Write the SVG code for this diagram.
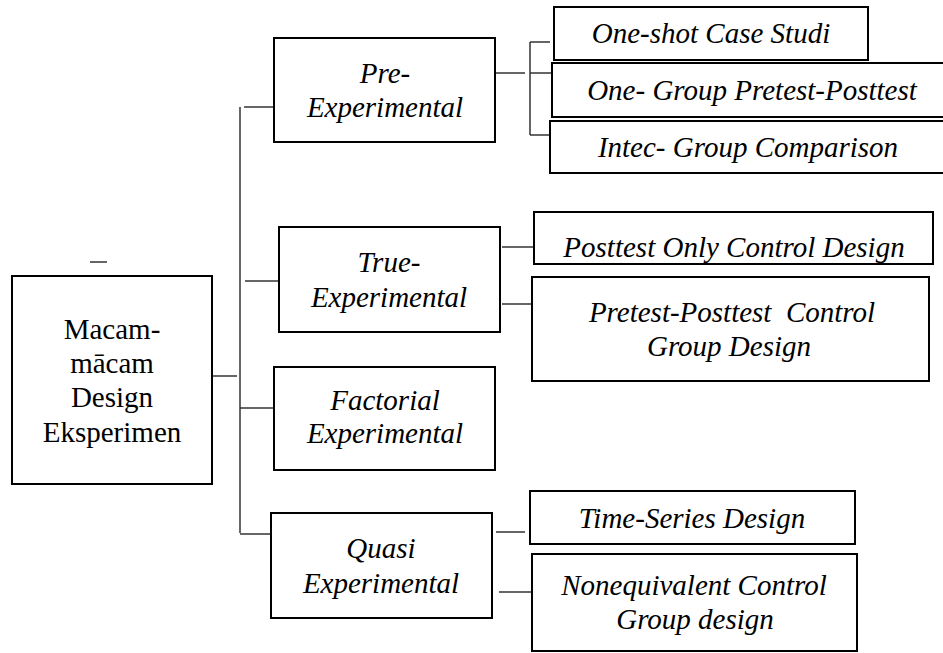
<svg xmlns="http://www.w3.org/2000/svg" width="943" height="653" viewBox="0 0 943 653" font-family="'Liberation Serif', 'Times New Roman', Tinos, 'DejaVu Serif', serif">
<style>
.box{fill:#fff;stroke:#000;stroke-width:2}
.c{stroke:#333;stroke-width:1.5;fill:none}
text{font-family:'Liberation Serif','Times New Roman',Tinos,'DejaVu Serif',serif;font-size:29px;fill:#000;text-anchor:middle}
.i{font-style:italic}
</style>
<rect width="943" height="653" fill="#fff"/>
<g id="connectors">
<line class="c" x1="90" y1="262" x2="107" y2="262"/>
<line class="c" x1="207" y1="376" x2="237" y2="376"/>
<line class="c" x1="240" y1="107" x2="240" y2="533"/>
<line class="c" x1="244" y1="107" x2="274" y2="107"/>
<line class="c" x1="245" y1="281" x2="279" y2="281"/>
<line class="c" x1="240" y1="408" x2="274" y2="408"/>
<line class="c" x1="240" y1="534" x2="271" y2="534"/>
<line class="c" x1="495" y1="73" x2="525" y2="73"/>
<line class="c" x1="530" y1="42" x2="530" y2="135"/>
<line class="c" x1="530" y1="42" x2="550" y2="42"/>
<line class="c" x1="530" y1="73" x2="552" y2="73"/>
<line class="c" x1="530" y1="135" x2="550" y2="135"/>
<line class="c" x1="502" y1="247" x2="534" y2="247"/>
<line class="c" x1="502" y1="304" x2="532" y2="304"/>
<line class="c" x1="496" y1="532" x2="525" y2="532"/>
<line class="c" x1="499" y1="592" x2="532" y2="592"/>
</g>
<g id="main">
<rect class="box" x="12" y="276" width="200" height="208"/>
<text x="112" y="339">Macam-</text>
<text x="112" y="373">mācam</text>
<text x="112" y="407">Design</text>
<text x="112" y="442">Eksperimen</text>
</g>
<g id="pre">
<rect class="box" x="274" y="38" width="221" height="104"/>
<text class="i" x="385" y="83">Pre-</text>
<text class="i" x="385" y="117">Experimental</text>
</g>
<g id="oneshot">
<rect class="box" x="554" y="7" width="314" height="53"/>
<text class="i" x="711" y="43">One-shot Case Studi</text>
</g>
<g id="onegroup">
<rect class="box" x="552" y="63" width="395" height="54"/>
<text class="i" x="752" y="100">One- Group Pretest-Posttest</text>
</g>
<g id="intec">
<rect class="box" x="550" y="121" width="397" height="52"/>
<text class="i" x="748" y="157">Intec- Group Comparison</text>
</g>
<g id="true">
<rect class="box" x="279" y="227" width="221" height="105"/>
<text class="i" x="389" y="272">True-</text>
<text class="i" x="389" y="307">Experimental</text>
</g>
<g id="posttestonly">
<rect class="box" x="534" y="212" width="399" height="52"/>
<text class="i" x="734" y="257">Posttest Only Control Design</text>
</g>
<g id="pretestposttest">
<rect class="box" x="532" y="277" width="397" height="104"/>
<text class="i" x="732" y="322" xml:space="preserve">Pretest-Posttest  Control</text>
<text class="i" x="729" y="356">Group Design</text>
</g>
<g id="factorial">
<rect class="box" x="274" y="367" width="221" height="103"/>
<text class="i" x="385" y="410">Factorial</text>
<text class="i" x="385" y="443">Experimental</text>
</g>
<g id="quasi">
<rect class="box" x="271" y="513" width="221" height="105"/>
<text class="i" x="381" y="558">Quasi</text>
<text class="i" x="381" y="593">Experimental</text>
</g>
<g id="timeseries">
<rect class="box" x="530" y="491" width="325" height="53"/>
<text class="i" x="692" y="528">Time-Series Design</text>
</g>
<g id="nonequivalent">
<rect class="box" x="532" y="554" width="325" height="97"/>
<text class="i" x="694" y="595">Nonequivalent Control</text>
<text class="i" x="695" y="629">Group design</text>
</g>
</svg>
